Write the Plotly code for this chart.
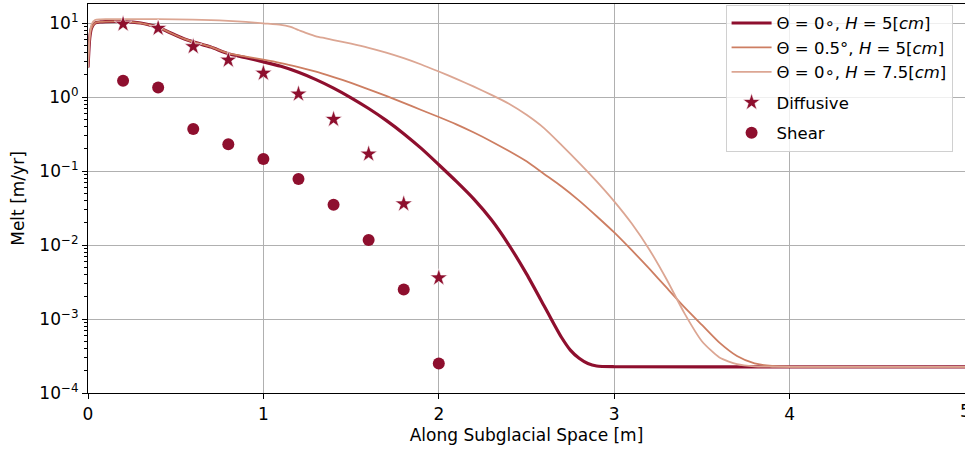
import plotly.graph_objects as go

# ---- data ----
x_dark = [0, 0.01, 0.02, 0.04, 0.07, 0.1, 0.2, 0.3, 0.35, 0.4, 0.45, 0.5, 0.55, 0.6, 0.7,
          0.8, 0.9, 1.0, 1.1, 1.2, 1.3, 1.4, 1.5, 1.6, 1.7, 1.8, 1.9, 2.0, 2.1, 2.2, 2.3,
          2.4, 2.5, 2.6, 2.65, 2.7, 2.75, 2.8, 2.85, 2.9, 3.0, 4.0, 5.0]
y_dark = [2.51, 6.31, 8.51, 10.0, 10.35, 10.47, 10.47, 10.0, 9.44, 8.71, 7.76, 6.84, 6.10,
          5.56, 4.73, 3.85, 3.39, 2.99, 2.60, 2.16, 1.72, 1.32, 0.977, 0.700, 0.484, 0.320,
          0.202, 0.1216, 0.0724, 0.0417, 0.0219, 0.0100, 0.00407, 0.00151, 0.000912,
          0.000562, 0.000380, 0.000295, 0.000251, 0.000232, 0.0002265, 0.000226, 0.000226]

x_mid = [0, 0.01, 0.02, 0.04, 0.07, 0.1, 0.2, 0.3, 0.35, 0.4, 0.45, 0.5, 0.55, 0.6, 0.7,
         0.8, 0.9, 1.0, 1.1, 1.2, 1.3, 1.4, 1.5, 1.6, 1.7, 1.8, 1.9, 2.0, 2.1, 2.2, 2.3,
         2.4, 2.5, 2.6, 2.7, 2.8, 2.9, 3.0, 3.1, 3.2, 3.3, 3.4, 3.5, 3.6, 3.7, 3.8, 3.9,
         4.0, 5.0]
y_mid = [2.51, 6.31, 8.51, 10.0, 10.35, 10.47, 10.47, 10.0, 9.44, 8.71, 7.76, 6.84, 6.10,
         5.56, 4.75, 3.89, 3.51, 3.20, 2.88, 2.54, 2.21, 1.86, 1.55, 1.27, 1.035, 0.832,
         0.668, 0.537, 0.427, 0.331, 0.251, 0.186, 0.135, 0.0912, 0.0617, 0.0398, 0.0245,
         0.0148, 0.00851, 0.00479, 0.00263, 0.00145, 0.000832, 0.000479, 0.000316,
         0.000251, 0.000232, 0.0002265, 0.000226]

x_light = [0, 0.01, 0.02, 0.04, 0.07, 0.1, 0.3, 0.5, 0.7, 0.8, 0.9, 1.0, 1.1, 1.15, 1.2,
           1.25, 1.3, 1.35, 1.4, 1.5, 1.6, 1.7, 1.8, 1.9, 2.0, 2.1, 2.2, 2.3, 2.4, 2.5,
           2.6, 2.7, 2.8, 2.9, 3.0, 3.1, 3.2, 3.3, 3.4, 3.5, 3.6, 3.7, 3.8, 3.9, 5.0]
y_light = [2.51, 7.08, 9.55, 10.96, 11.22, 11.30, 11.30, 11.22, 10.96, 10.72, 10.35, 9.89,
           9.44, 8.91, 8.04, 7.24, 6.61, 6.24, 5.89, 5.25, 4.62, 3.98, 3.35, 2.75, 2.21,
           1.76, 1.38, 1.07, 0.813, 0.575, 0.380, 0.224, 0.129, 0.0724, 0.0389, 0.0195,
           0.00871, 0.00339, 0.00120, 0.000501, 0.000302, 0.000245, 0.000229, 0.0002265,
           0.000226]

x_pts = [0.2, 0.4, 0.6, 0.8, 1.0, 1.2, 1.4, 1.6, 1.8, 2.0]
y_diffusive = [9.7, 8.5, 4.8, 3.16, 2.1, 1.1, 0.5, 0.17, 0.036, 0.0036]
y_shear = [1.66, 1.34, 0.37, 0.23, 0.145, 0.078, 0.035, 0.0117, 0.0025, 0.00025]

names = ["Θ = 0∘, <i>H</i> = 5[<i>cm</i>]",
         "Θ = 0.5°, <i>H</i> = 5[<i>cm</i>]",
         "Θ = 0∘, <i>H</i> = 7.5[<i>cm</i>]",
         "Diffusive", "Shear"]

y_tickvals = [1e-4, 1e-3, 1e-2, 1e-1, 1, 10]
y_ticktext = ["10<sup>−4</sup>", "10<sup>−3</sup>", "10<sup>−2</sup>",
              "10<sup>−1</sup>", "10<sup>0</sup>", "10<sup>1</sup>"]
y_minor = [m * d for d in [1e-4, 1e-3, 1e-2, 1e-1, 1, 10] for m in range(2, 10)]
x_tickvals = [0, 1, 2, 3, 4, 5]

DARK = "#8e0f2e"
MID = "#cd7e62"
LIGHT = "#dca693"

fig = go.Figure()
fig.add_trace(go.Scatter(x=x_dark, y=y_dark, mode="lines", name=names[0], legendgroup="lines",
                         line=dict(color=DARK, width=3.2, shape="spline", smoothing=0.6)))
fig.add_trace(go.Scatter(x=x_mid, y=y_mid, mode="lines", name=names[1], legendgroup="lines",
                         line=dict(color=MID, width=1.8, shape="spline", smoothing=0.6)))
fig.add_trace(go.Scatter(x=x_light, y=y_light, mode="lines", name=names[2], legendgroup="lines",
                         line=dict(color=LIGHT, width=1.8, shape="spline", smoothing=0.6)))
fig.add_trace(go.Scatter(x=x_pts, y=y_diffusive, mode="markers", name=names[3],
                         legendgroup="diff",
                         marker=dict(symbol="star", size=13, color=DARK,
                                     line=dict(color="white", width=0.6))))
fig.add_trace(go.Scatter(x=x_pts, y=y_shear, mode="markers", name=names[4],
                         legendgroup="shear",
                         marker=dict(symbol="circle", size=12, color=DARK,
                                     line=dict(width=0))))

# last x tick label sits on the clipped right edge
fig.add_annotation(x=x_tickvals[-1], xref="x", y=0, yref="paper", yanchor="top",
                   xanchor="center", text=str(x_tickvals[-1]), showarrow=False,
                   yshift=-6, font=dict(size=17, color="black"))

fig.update_layout(
    width=965, height=449,
    margin=dict(l=88, r=0, t=4, b=56, autoexpand=False),
    paper_bgcolor="white", plot_bgcolor="white",
    font=dict(family="DejaVu Sans", size=17, color="black"),
    showlegend=True,
    legend=dict(x=0.727, y=0.998, xanchor="left", yanchor="top",
                bgcolor="rgba(255,255,255,0.8)", bordercolor="#d0d0d0", borderwidth=1,
                font=dict(size=16.5), tracegroupgap=6, itemwidth=40),
)
fig.update_xaxes(
    range=[0, 5], tickvals=x_tickvals, ticks="outside", ticklen=5, tickcolor="black",
    showgrid=True, gridcolor="#b0b0b0", gridwidth=1,
    showline=True, linecolor="black", linewidth=1.2, mirror=True,
    zeroline=False, automargin=False,
    title=dict(text="Along Subglacial Space [m]", standoff=6, font=dict(size=17)),
)
fig.update_yaxes(
    type="log", range=[-4, 1.257], tickvals=y_tickvals, ticktext=y_ticktext,
    ticks="outside", ticklen=5, tickcolor="black",
    minor=dict(tickmode="array", tickvals=y_minor, ticks="outside", ticklen=3,
               tickcolor="black", showgrid=False),
    showgrid=True, gridcolor="#b0b0b0", gridwidth=1,
    showline=True, linecolor="black", linewidth=1.2,
    zeroline=False, automargin=False,
    title=dict(text="Melt [m/yr]", standoff=10, font=dict(size=17)),
)

fig.write_html("out.html", config={"displayModeBar": False},
               post_script="document.body.style.margin='0px';")
